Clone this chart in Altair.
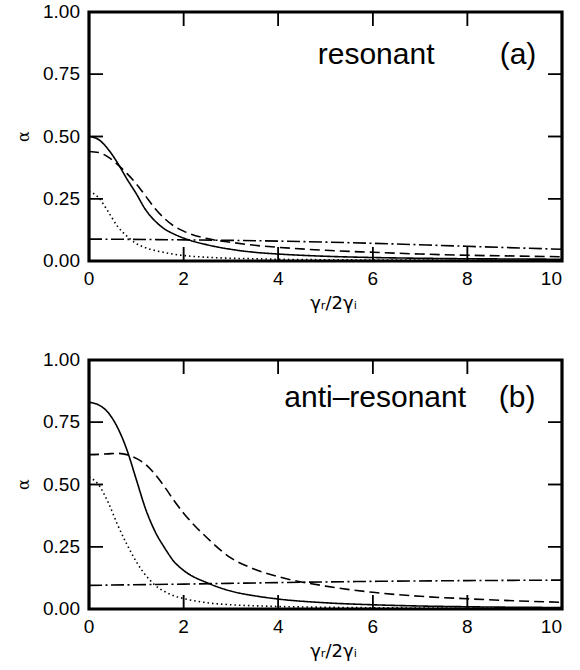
import altair as alt
import pandas as pd

# ---------------- data ----------------
x_fine = [0, 0.2, 0.4, 0.6, 0.8, 1.0, 1.2, 1.4, 1.6, 1.8, 2.0, 2.5, 3, 3.5, 4, 5, 6, 7, 8, 9, 10]
x_line = [0, 2, 4, 6, 8, 10]

# panel (a) resonant
a_solid = [0.50, 0.488, 0.45, 0.395, 0.33, 0.27, 0.205, 0.16, 0.128, 0.108, 0.092,
           0.065, 0.047, 0.035, 0.028, 0.019, 0.014, 0.011, 0.009, 0.008, 0.007]
a_dashed = [0.44, 0.436, 0.418, 0.388, 0.352, 0.31, 0.26, 0.21, 0.17, 0.14, 0.12,
            0.09, 0.075, 0.063, 0.055, 0.043, 0.035, 0.028, 0.023, 0.02, 0.017]
a_dotted = [0.28, 0.255, 0.2, 0.14, 0.1, 0.07, 0.053, 0.042, 0.034, 0.027, 0.022,
            0.015, 0.011, 0.009, 0.007, 0.005, 0.004, 0.0035, 0.003, 0.0025, 0.002]
a_dashdot = [0.088, 0.085, 0.08, 0.071, 0.059, 0.047]

# panel (b) anti-resonant
b_solid = [0.83, 0.82, 0.79, 0.73, 0.64, 0.52, 0.40, 0.31, 0.245, 0.19, 0.155,
           0.105, 0.072, 0.053, 0.04, 0.025, 0.017, 0.012, 0.009, 0.007, 0.006]
b_dashed = [0.62, 0.621, 0.623, 0.625, 0.62, 0.605, 0.58, 0.54, 0.49, 0.435, 0.385,
            0.285, 0.205, 0.16, 0.13, 0.092, 0.067, 0.051, 0.041, 0.033, 0.027]
b_dotted = [0.53, 0.50, 0.43, 0.34, 0.26, 0.19, 0.135, 0.095, 0.07, 0.053, 0.042,
            0.025, 0.017, 0.013, 0.01, 0.007, 0.005, 0.004, 0.003, 0.0025, 0.002]
b_dashdot = [0.095, 0.10, 0.106, 0.111, 0.114, 0.116]

series_names = ["solid", "dashed", "dotted", "dashdot"]
dash_patterns = [[1, 0], [10, 5], [1.5, 3], [13, 3.5, 2, 3.5]]

x_ticks = [0, 2, 4, 6, 8, 10]
x_tick_labels = ["0", "2", "4", "6", "8", "10"]
y_ticks = [0, 0.25, 0.5, 0.75, 1.0]
y_tick_labels = ["0.00", "0.25", "0.50", "0.75", "1.00"]

x_title = "\u03b3\u1d63/2\u03b3\u1d62"
y_title = "\u03b1"

label_names = {"a": "resonant", "b": "anti\u2013resonant"}
tag_names = {"a": "(a)", "b": "(b)"}
label_x = {"a": 6.07, "b": 6.05}
tag_x = {"a": 9.07, "b": 9.05}
label_y = {"a": 0.79, "b": 0.81}

FONT = "Liberation Sans"
W, H = 473, 249
TICK = 14
XMIN, XMAX, YMIN, YMAX = 0, 10, 0, 1
tl_x = TICK * (XMAX - XMIN) / W   # inward tick length in x data units
tl_y = TICK * (YMAX - YMIN) / H   # inward tick length in y data units

rows = []
def add(panel, series, xs, ys):
    for xv, yv in zip(xs, ys):
        rows.append({"panel": panel, "series": series, "x": xv, "y": yv})

add("a", "solid", x_fine, a_solid)
add("a", "dashed", x_fine, a_dashed)
add("a", "dotted", x_fine, a_dotted)
add("a", "dashdot", x_line, a_dashdot)
add("b", "solid", x_fine, b_solid)
add("b", "dashed", x_fine, b_dashed)
add("b", "dotted", x_fine, b_dotted)
add("b", "dashdot", x_line, b_dashdot)
df = pd.DataFrame(rows)

# tick tables (positions come from the tick arrays; lengths are the fixed tick size)
xt_df = pd.DataFrame({"v": x_ticks, "t": x_tick_labels,
                      "b0": [YMIN] * len(x_ticks), "b1": [YMIN + tl_y] * len(x_ticks),
                      "t0": [YMAX] * len(x_ticks), "t1": [YMAX - tl_y] * len(x_ticks)})
yt_df = pd.DataFrame({"v": y_ticks, "t": y_tick_labels,
                      "l0": [XMIN] * len(y_ticks), "l1": [XMIN + tl_x] * len(y_ticks),
                      "r0": [XMAX] * len(y_ticks), "r1": [XMAX - tl_x] * len(y_ticks)})

xscale = alt.Scale(domain=[XMIN, XMAX], nice=False, zero=False)
yscale = alt.Scale(domain=[YMIN, YMAX], nice=False)


def panel(p):
    X = alt.X("x:Q", scale=xscale, axis=None)
    Y = alt.Y("y:Q", scale=yscale, axis=None)
    XV = alt.X("v:Q", scale=xscale, axis=None)
    YV = alt.Y("v:Q", scale=yscale, axis=None)

    lines = alt.Chart(df[df.panel == p]).mark_line(
        color="black", strokeWidth=1.6, interpolate="monotone").encode(
        x=X, y=Y,
        strokeDash=alt.StrokeDash("series:N",
                                  scale=alt.Scale(domain=series_names, range=dash_patterns),
                                  legend=None),
    )

    xt = alt.Chart(xt_df)
    yt = alt.Chart(yt_df)
    # inward ticks drawn as rules in data coordinates
    tick_b = xt.mark_rule(color="black", strokeWidth=1.5).encode(
        x=XV, y=alt.Y("b0:Q", scale=yscale, axis=None), y2="b1:Q")
    tick_t = xt.mark_rule(color="black", strokeWidth=1.5).encode(
        x=XV, y=alt.Y("t0:Q", scale=yscale, axis=None), y2="t1:Q")
    tick_l = yt.mark_rule(color="black", strokeWidth=1.5).encode(
        y=YV, x=alt.X("l0:Q", scale=xscale, axis=None), x2="l1:Q")
    tick_r = yt.mark_rule(color="black", strokeWidth=1.5).encode(
        y=YV, x=alt.X("r0:Q", scale=xscale, axis=None), x2="r1:Q")
    # and the same ticks as tick marks (rect based)
    tk_b = xt.mark_tick(color="black", thickness=1.5, size=TICK, opacity=1).encode(
        x=XV, y=alt.value(H - TICK / 2))
    tk_t = xt.mark_tick(color="black", thickness=1.5, size=TICK, opacity=1).encode(
        x=XV, y=alt.value(TICK / 2))
    tk_l = yt.mark_tick(color="black", thickness=1.5, size=TICK, opacity=1).encode(
        y=YV, x=alt.value(TICK / 2))
    tk_r = yt.mark_tick(color="black", thickness=1.5, size=TICK, opacity=1).encode(
        y=YV, x=alt.value(W - TICK / 2))

    # tick labels
    xlab_mid = alt.Chart(xt_df.iloc[:-1]).mark_text(
        font=FONT, fontSize=19, color="black", align="center", baseline="top").encode(
        x=XV, y=alt.value(H + 9), text="t:N")
    xlab_last = alt.Chart(xt_df.iloc[-1:]).mark_text(
        font=FONT, fontSize=19, color="black", align="right", baseline="top").encode(
        x=XV, y=alt.value(H + 9), text="t:N")
    ylab = yt.mark_text(font=FONT, fontSize=19, color="black", align="right",
                        baseline="middle").encode(
        y=YV, x=alt.value(-9), text="t:N")

    # axis titles
    xtitle = alt.Chart(pd.DataFrame({"t": [x_title]})).mark_text(
        font="DejaVu Sans", fontSize=18, color="black", align="center",
        baseline="middle").encode(x=alt.value(W / 2 + 8), y=alt.value(H + 43), text="t:N")
    ytitle = alt.Chart(pd.DataFrame({"t": [y_title]})).mark_text(
        font="DejaVu Serif", fontSize=16, color="black", align="center",
        baseline="middle", angle=270).encode(x=alt.value(-65), y=alt.value(H / 2), text="t:N")

    lab_df = pd.DataFrame({"x": [label_x[p], tag_x[p]],
                           "y": [label_y[p], label_y[p]],
                           "t": [label_names[p], tag_names[p]]})
    texts = alt.Chart(lab_df).mark_text(font=FONT, fontSize=30, color="black",
                                        baseline="alphabetic", align="center").encode(
        x=X, y=Y, text="t:N",
    )
    return alt.layer(lines, tick_b, tick_t, tick_l, tick_r, tk_b, tk_t, tk_l, tk_r,
                     xlab_mid, xlab_last, ylab, xtitle, ytitle, texts).properties(
        width=W, height=H)


chart = alt.vconcat(panel("a"), panel("b"), spacing=99, bounds="flush").configure_view(
    stroke="black", strokeWidth=3.2).properties(
    padding={"left": 14, "top": 1, "right": 5, "bottom": 5}, background="white")

chart.save("out.html", embed_options={"renderer": "svg", "actions": False})
